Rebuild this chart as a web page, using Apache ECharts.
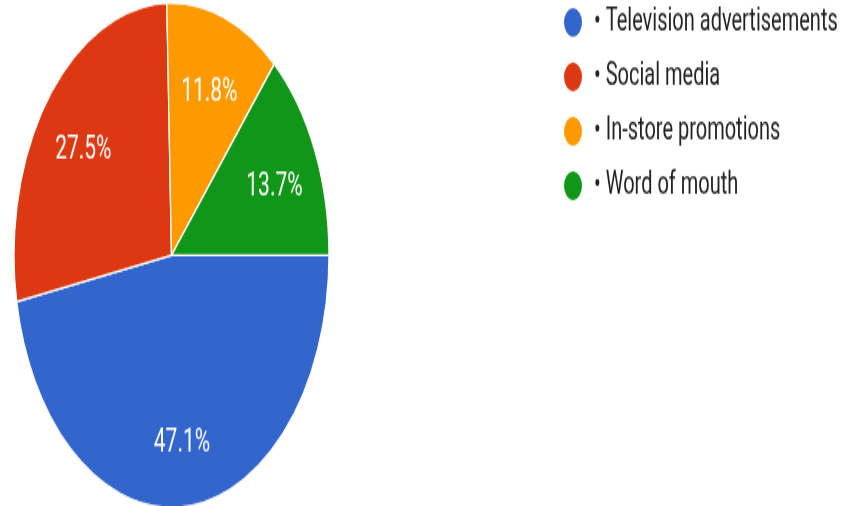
<!DOCTYPE html>
<html>
<head>
<meta charset="utf-8">
<script src="https://cdn.jsdelivr.net/npm/echarts@6/dist/echarts.min.js"></script>
<style>
  html, body { margin: 0; padding: 0; background: #fff; overflow: hidden; }
  /* chart drawn at a compact height, then stretched vertically */
  #wrap { width: 854px; height: 506px; overflow: hidden; }
  #chart { width: 854px; height: 316px; transform: scaleY(1.6013); transform-origin: 0 0; }
</style>
</head>
<body>
<div id="wrap"><div id="chart"></div></div>
<script>
// Channel shares (percent of responses)
const categories = ['Television advertisements', 'Social media', 'In-store promotions', 'Word of mouth'];
const shares = [47.1, 27.5, 11.8, 13.7];

const palette = ['#3366cc', '#dc3912', '#ff9900', '#109618'];

const slices = categories.map((name, i) => ({ name: name, value: shares[i] }));

const chart = echarts.init(document.getElementById('chart'), null, { renderer: 'canvas' });

const R = 157.5;
const center = [171.5, 159.4];

chart.setOption({
  animation: false,
  color: palette,
  legend: {
    orient: 'vertical',
    left: 562,
    top: 3,
    padding: 0,
    icon: 'circle',
    itemWidth: 20,
    itemHeight: 20,
    itemGap: 12,
    formatter: '• {name}',
    textStyle: { fontFamily: 'Roboto', fontSize: 20, color: '#222222', padding: [0, 0, 0, 6] },
    selectedMode: false,
    data: categories
  },
  series: [
    {
      // filled wedges
      type: 'pie',
      center: center,
      radius: [0, R],
      startAngle: 0,
      clockwise: true,
      silent: true,
      label: { show: false },
      labelLine: { show: false },
      itemStyle: { borderColor: '#ffffff', borderWidth: 1.3 },
      data: slices
    },
    {
      // percentage labels, placed part-way out toward the rim
      type: 'pie',
      center: center,
      radius: [R * 0.4, R],
      startAngle: 0,
      clockwise: true,
      silent: true,
      legendHoverLink: false,
      itemStyle: { color: 'rgba(0,0,0,0)', borderWidth: 0 },
      labelLine: { show: false },
      label: {
        show: true,
        position: 'inside',
        offset: [0, 5],
        formatter: p => p.value.toFixed(1) + '%',
        fontFamily: 'Roboto',
        fontSize: 21,
        color: '#ffffff'
      },
      data: slices
    }
  ]
});
</script>
</body>
</html>
